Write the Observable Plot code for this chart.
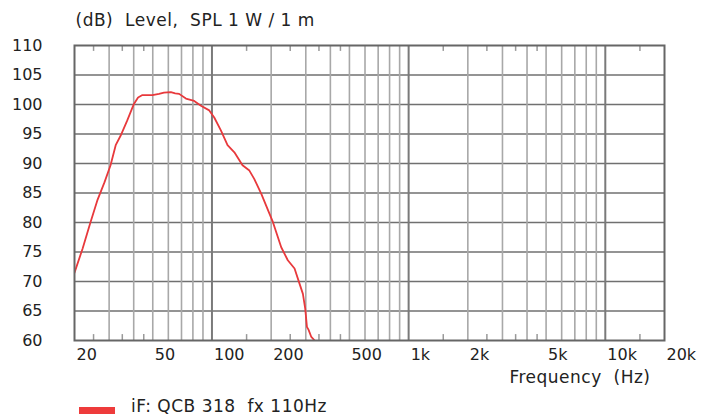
<!DOCTYPE html>
<html><head><meta charset="utf-8">
<script src="https://cdn.jsdelivr.net/npm/d3@7"></script>
<script src="https://cdn.jsdelivr.net/npm/@observablehq/plot@0.6"></script>
<style>
body{margin:0;background:#fff;font-family:"DejaVu Sans",Verdana,sans-serif;}
#wrap{position:relative;width:715px;height:419px;overflow:hidden;background:#fff;}
#wrap svg{white-space:pre;}
#sw{position:absolute;left:79px;top:407px;width:36px;height:7px;background:#ee3b3b;}
#lt{position:absolute;left:131px;top:398px;font-size:17px;line-height:17px;letter-spacing:0.5px;white-space:pre;color:#222;}
</style></head><body><div id="wrap"></div>
<script>
const freqHz = [20, 22, 24.1, 26.1, 28.4, 30.5, 32.4, 34.3, 37.1, 40.1, 42.1, 44.3, 47, 49.8, 53.8, 57, 61.8, 65, 68.1, 73.7, 81.2, 87.9, 96.9, 102.7, 111, 120, 130, 143, 155, 164, 178, 196, 204, 225, 243, 263, 279, 290, 298, 304, 310, 320, 333, 335];
const splDb  = [71.5, 75.6, 80.0, 83.7, 86.8, 89.7, 93.1, 94.7, 97.3, 100.1, 101.2, 101.6, 101.6, 101.6, 101.8, 102.0, 102.1, 101.9, 101.8, 101.0, 100.6, 99.8, 99.0, 97.8, 95.6, 93.1, 91.9, 89.7, 88.8, 87.4, 84.9, 81.5, 80.1, 75.8, 73.6, 72.2, 69.6, 67.9, 65.4, 62.3, 61.8, 60.6, 60.0];
const yTicks = [60, 65, 70, 75, 80, 85, 90, 95, 100, 105, 110];
const xLabelValues = [20, 50, 100, 200, 500, 1000, 2000, 5000, 10000, 20000];
const xLabelText = ["20", "50", "100", "200", "500", "1k", "2k", "5k", "10k", "20k"];
const minorGrid = [30, 40, 50, 60, 70, 80, 90, 200, 300, 400, 500, 600, 700, 800, 900, 2000, 3000, 4000, 5000, 6000, 7000, 8000, 9000];
const decadeGrid = [100, 1000, 10000];
const minorTicks = [25, 35, 45, 150, 250, 350, 450, 1500, 2500, 3500, 4500, 15000];
const seriesName = "iF: QCB 318  fx 110Hz";
const yTitle = "(dB)  Level,  SPL 1 W / 1 m";
const xTitle = "Frequency  (Hz)";

const n = Math.min(freqHz.length, splDb.length);
const data = freqHz.slice(0, n).map((f, i) => ({f, db: splDb[i]}));
const xLabels = xLabelValues.map((v, i) => ({v, t: xLabelText[i]}));

const chart = Plot.plot({
  width: 715, height: 395,
  marginLeft: 74, marginRight: 51, marginTop: 45, marginBottom: 55,
  style: {fontFamily: "'DejaVu Sans', Verdana, sans-serif", fontSize: "16px", color: "#222", background: "white", overflow: "visible"},
  x: {type: "log", domain: [20, 20000], axis: null},
  y: {domain: [60, 110], axis: null},
  marks: [
    Plot.ruleY(yTicks.slice(1, -1), {stroke: "#707070", strokeWidth: 1.6}),
    Plot.ruleX(minorGrid, {stroke: "#a8a8a8", strokeWidth: 1.6}),
    Plot.ruleX(decadeGrid, {stroke: "#7a7a7a", strokeWidth: 2}),
    Plot.ruleX(minorTicks, {y1: 110, y2: 109, stroke: "#999", strokeWidth: 1.5}),
    Plot.ruleX(minorTicks, {y1: 60, y2: 61, stroke: "#999", strokeWidth: 1.5}),
    Plot.line(data, {x: "f", y: "db", stroke: "#e8393c", strokeWidth: 1.8, clip: true}),
    Plot.frame({stroke: "#666", strokeWidth: 2}),
    Plot.axisY(yTicks, {tickSize: 0, tickPadding: 32, fontSize: 16, label: null}),
    Plot.text(xLabels, {x: "v", text: "t", frameAnchor: "bottom", dy: 19, dx: 2, lineAnchor: "bottom", textAnchor: "start", fontSize: 16}),
    Plot.text([yTitle], {frameAnchor: "top-left", dx: 1, dy: -20, lineAnchor: "bottom", textAnchor: "start", fontSize: 17, style: "letter-spacing:0.55px"}),
    Plot.text([xTitle], {frameAnchor: "bottom-right", dx: -14, dy: 42, lineAnchor: "bottom", textAnchor: "end", fontSize: 17})
  ]
});
const wrap = document.getElementById("wrap");
wrap.appendChild(chart);
// letter spacing for title texts
chart.querySelectorAll("text").forEach(t => {
  if (t.textContent === yTitle || t.textContent === xTitle) t.setAttribute("letter-spacing", "0.5");
});
const sw = document.createElement("div"); sw.id = "sw"; wrap.appendChild(sw);
const lt = document.createElement("div"); lt.id = "lt"; lt.textContent = seriesName; wrap.appendChild(lt);
</script></body></html>
